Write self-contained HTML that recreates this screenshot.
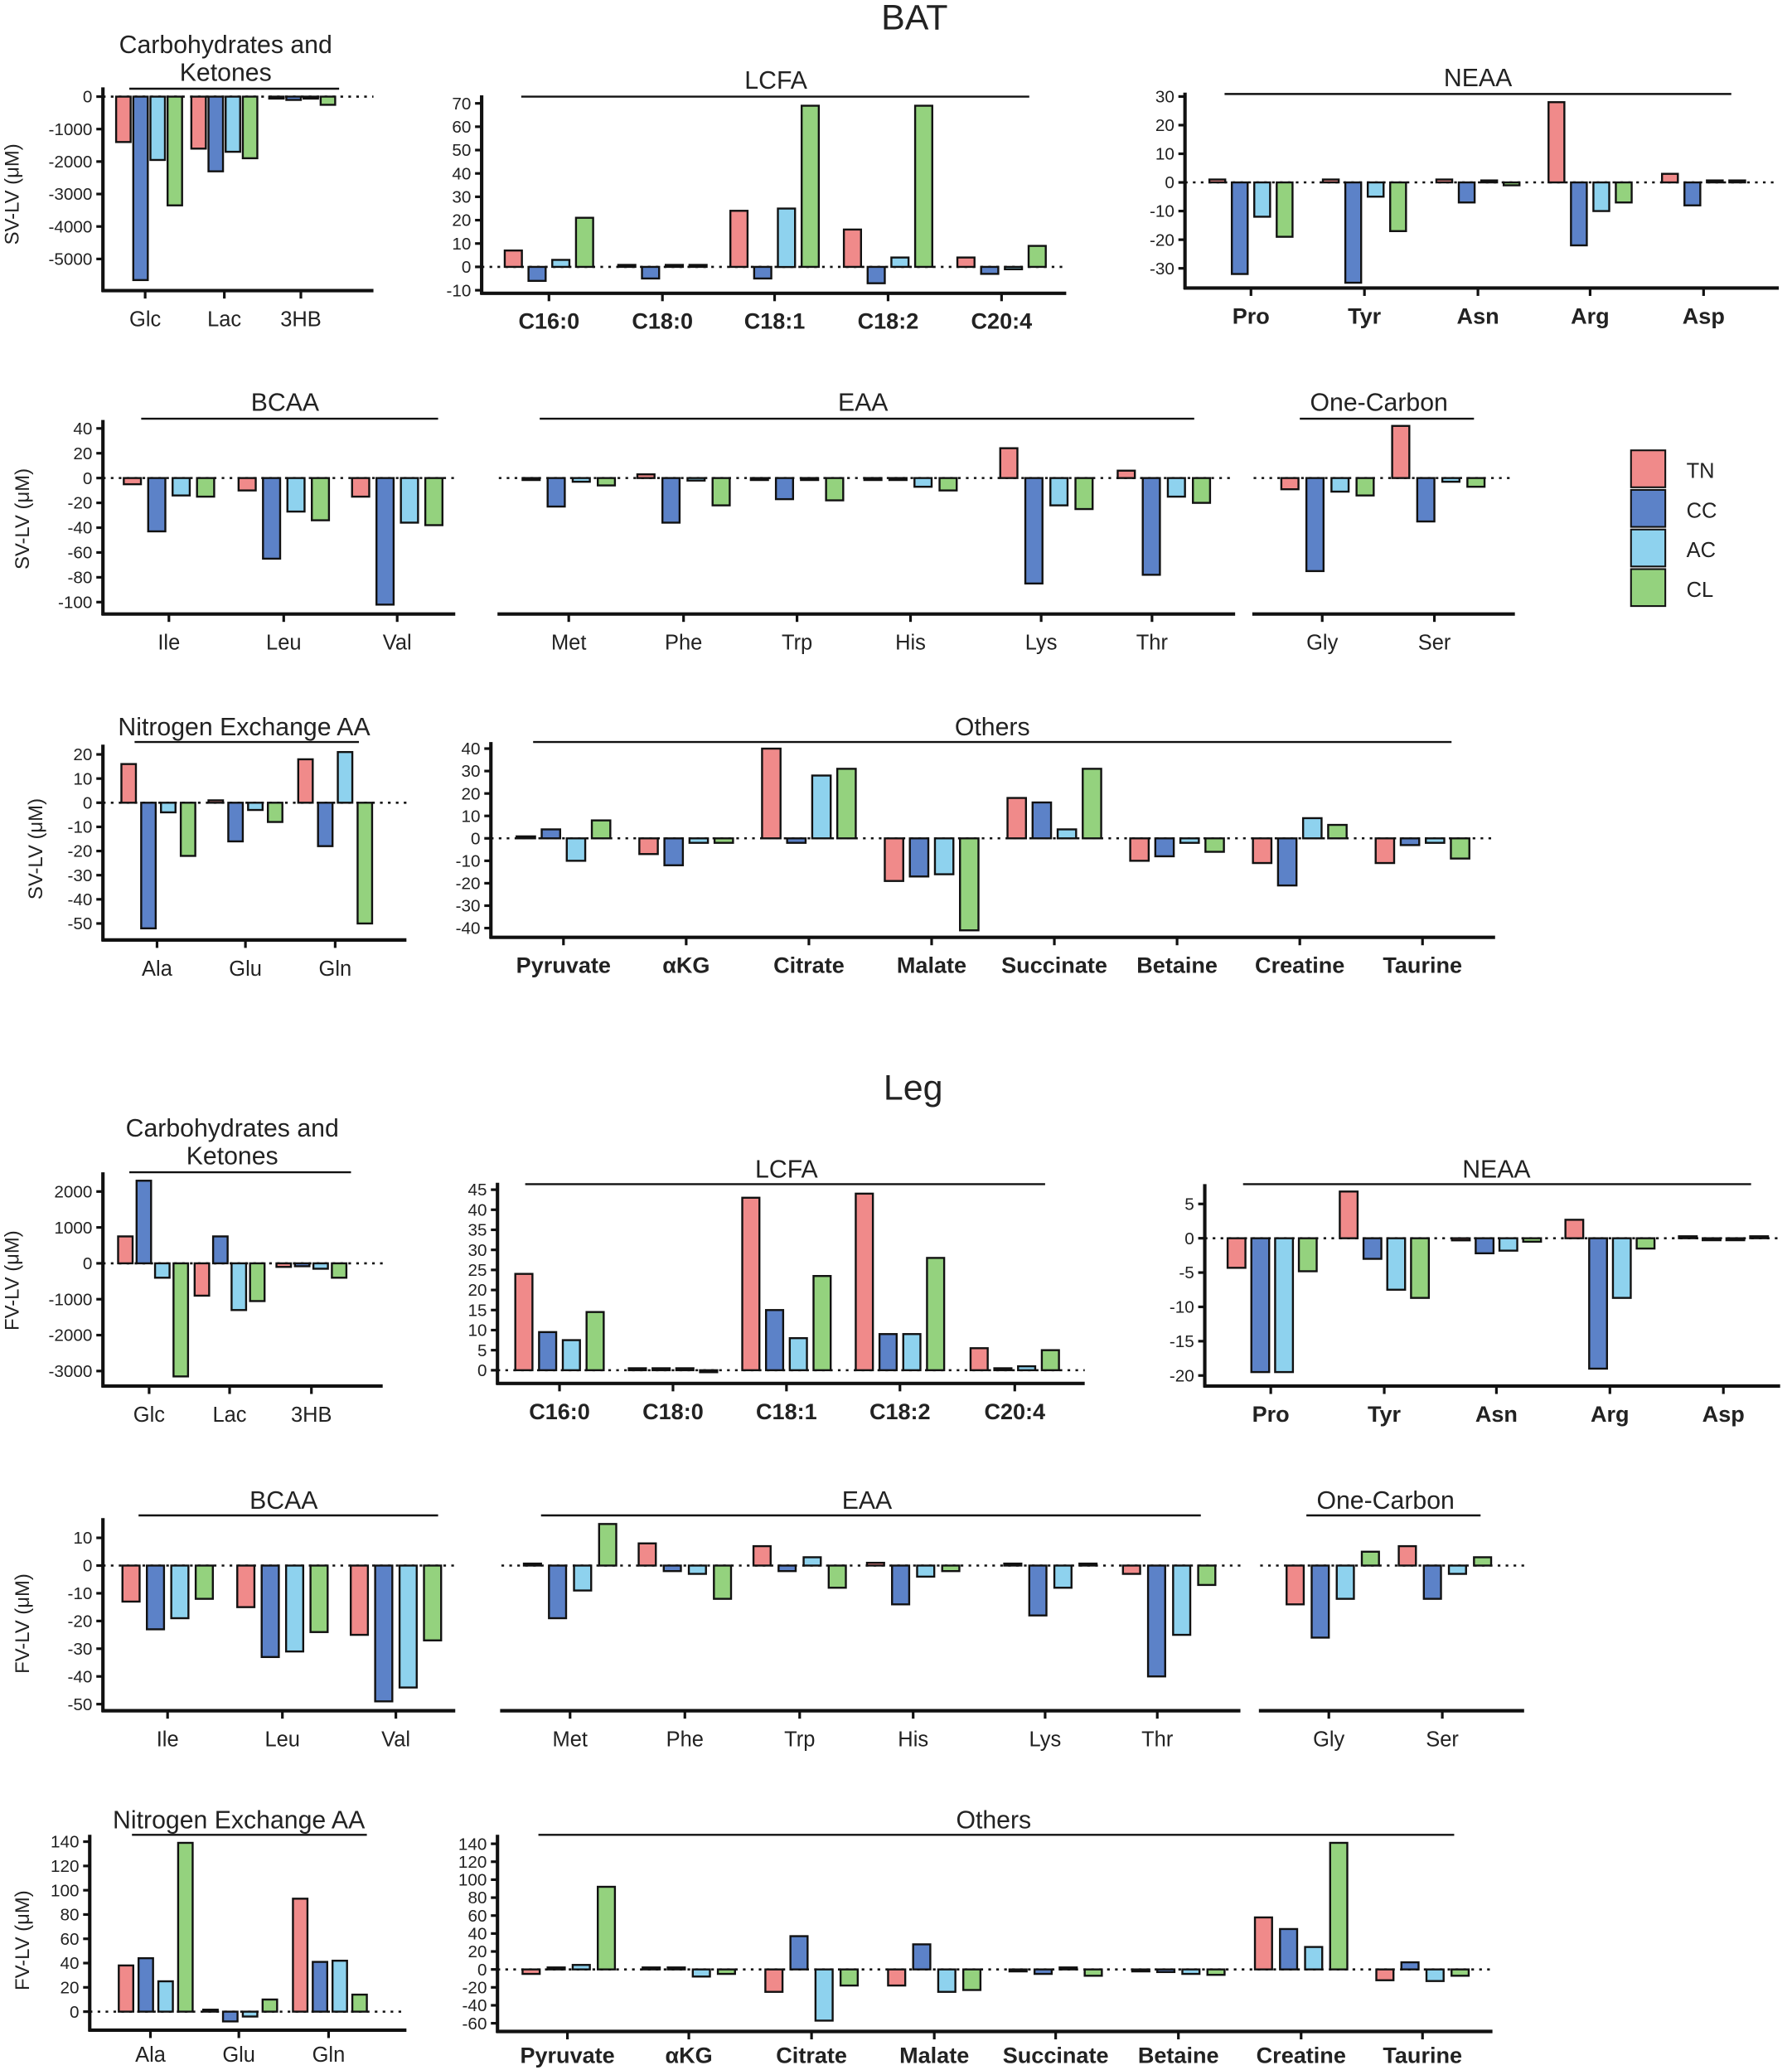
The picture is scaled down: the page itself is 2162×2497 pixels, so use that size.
<!DOCTYPE html>
<html><head><meta charset="utf-8"><style>
html,body{margin:0;padding:0;background:#fff;}
svg{display:block;}
text{font-family:"Liberation Sans",sans-serif;fill:#222;}
</style></head><body>
<svg id="s" width="2162" height="2497" viewBox="0 0 1358 1568" xmlns="http://www.w3.org/2000/svg">
<text x="693" y="22" font-size="27" text-anchor="middle">BAT</text>
<text x="692" y="833" font-size="27" text-anchor="middle">Leg</text>
<g font-size="16">
<rect x="1236" y="341" width="26" height="28" fill="#F08A8A" stroke="#111" stroke-width="1.3"/>
<rect x="1236" y="371" width="26" height="28" fill="#5C82C8" stroke="#111" stroke-width="1.3"/>
<rect x="1236" y="401" width="26" height="28" fill="#8ED2EE" stroke="#111" stroke-width="1.3"/>
<rect x="1236" y="431" width="26" height="28" fill="#94D27E" stroke="#111" stroke-width="1.3"/>
<text x="1278" y="362">TN</text><text x="1278" y="392">CC</text><text x="1278" y="422">AC</text><text x="1278" y="452">CL</text>
</g>
</svg>
<script>
var C=["#F08A8A","#5C82C8","#8ED2EE","#94D27E"];
var P=[
{ya:1,x0:78,x1:283,yb:220,y0:73,ppu:0.0246,ticks:[0,-1000,-2000,-3000,-4000,-5000],ytop:66,w:11,s:13,
 cats:[["Glc",110,113,[-1400,-5650,-1950,-3350]],["Lac",170,170,[-1600,-2300,-1700,-1900]],["3HB",228,229,[-30,-100,-50,-250]]],
 title:["Carbohydrates and","Ketones"],tx:171,ty:40,l:[98,257,67],yl:"SV-LV (μM)",ylx:14,yly:147},
{ya:1,x0:365,x1:808,yb:222,y0:202,ppu:1.77,ticks:[70,60,50,40,30,20,10,0,-10],ytop:72,w:13,s:18,bold:1,
 cats:[["C16:0",416,416,[7,-6,3,21]],["C18:0",502,502,[0.5,-5,0,0]],["C18:1",587,587,[24,-5,25,69]],["C18:2",673,673,[16,-7,4,69]],["C20:4",759,759,[4,-3,-1,9]]],
 title:["LCFA"],tx:588,ty:67,l:[395,780,73]},
{ya:1,x0:898,x1:1348,yb:218,y0:138,ppu:2.17,ticks:[30,20,10,0,-10,-20,-30],ytop:70,w:12,s:17,bold:1,
 cats:[["Pro",948,948,[1,-32,-12,-19]],["Tyr",1034,1034,[1,-35,-5,-17]],["Asn",1120,1120,[1,-7,0.5,-1]],["Arg",1205,1205,[28,-22,-10,-7]],["Asp",1291,1291,[3,-8,0,0]]],
 title:["NEAA"],tx:1120,ty:65,l:[928,1312,71]},
{ya:1,x0:78,x1:345,yb:465,y0:362,ppu:0.94,ticks:[40,20,0,-20,-40,-60,-80,-100],ytop:318,w:13,s:18.5,
 cats:[["Ile",128,128,[-5,-43,-14,-15]],["Leu",215,215,[-10,-65,-27,-34]],["Val",301,301,[-15,-102,-36,-38]]],
 title:["BCAA"],tx:216,ty:311,l:[107,332,317],yl:"SV-LV (μM)",ylx:22,yly:393},
{ya:0,x0:378,x1:936,yb:465,y0:362,ppu:0.94,w:13,s:19,
 cats:[["Met",431,431,[-1,-23,-3,-6]],["Phe",518,518,[3,-36,-2,-22]],["Trp",604,604,[-1,-17,-1,-18]],["His",690,690,[-1,-1,-7,-10]],["Lys",789,793,[24,-85,-22,-25]],["Thr",873,882,[6,-78,-15,-20]]],
 title:["EAA"],tx:654,ty:311,l:[409,905,317]},
{ya:0,x0:950,x1:1148,yb:465,y0:362,ppu:0.94,w:13,s:19,
 cats:[["Gly",1002,1006,[-9,-75,-11,-14]],["Ser",1087,1090,[42,-35,-3,-7]]],
 title:["One-Carbon"],tx:1045,ty:311,l:[985,1117,317]},
{ya:1,x0:78,x1:308,yb:712,y0:608,ppu:1.83,ticks:[20,10,0,-10,-20,-30,-40,-50],ytop:564,w:11,s:15,
 cats:[["Ala",119,120,[16,-52,-4,-22]],["Glu",186,186,[1,-16,-3,-8]],["Gln",254,254,[18,-18,21,-50]]],
 title:["Nitrogen Exchange AA"],tx:185,ty:557,l:[102,272,562],yl:"SV-LV (μM)",ylx:32,yly:643},
{ya:1,x0:372,x1:1133,yb:710,y0:635,ppu:1.7,ticks:[40,30,20,10,0,-10,-20,-30,-40],ytop:562,w:14,s:19,bold:1,
 cats:[["Pyruvate",427,427,[0.5,4,-10,8]],["αKG",520,520,[-7,-12,-2,-2]],["Citrate",613,613,[40,-2,28,31]],["Malate",706,706,[-19,-17,-16,-41]],["Succinate",799,799,[18,16,4,31]],["Betaine",892,892,[-10,-8,-2,-6]],["Creatine",985,985,[-11,-21,9,6]],["Taurine",1078,1078,[-11,-3,-2,-9]]],
 title:["Others"],tx:752,ty:557,l:[404,1100,562]},
{ya:1,x0:78,x1:290,yb:1050,y0:957,ppu:0.0272,ticks:[2000,1000,0,-1000,-2000,-3000],ytop:888,w:11,s:14,
 cats:[["Glc",113,116,[750,2300,-400,-3150]],["Lac",174,174,[-900,750,-1300,-1050]],["3HB",236,236,[-100,-80,-150,-400]]],
 title:["Carbohydrates and","Ketones"],tx:176,ty:861,l:[98,266,888],yl:"FV-LV (μM)",ylx:14,yly:970},
{ya:1,x0:377,x1:822,yb:1048,y0:1038,ppu:3.04,ticks:[45,40,35,30,25,20,15,10,5,0],ytop:896,w:13,s:18,bold:1,
 cats:[["C16:0",424,424,[24,9.5,7.5,14.5]],["C18:0",510,510,[0.3,0.3,0.3,-0.3]],["C18:1",596,596,[43,15,8,23.5]],["C18:2",682,682,[44,9,9,28]],["C20:4",769,769,[5.5,0,1,5]]],
 title:["LCFA"],tx:596,ty:892,l:[398,792,897]},
{ya:1,x0:913,x1:1349,yb:1050,y0:938,ppu:5.2,ticks:[5,0,-5,-10,-15,-20],ytop:897,w:13.5,s:18,bold:1,
 cats:[["Pro",963,964,[-4.3,-19.5,-19.5,-4.8]],["Tyr",1049,1049,[6.8,-3,-7.5,-8.7]],["Asn",1134,1134,[-0.3,-2.2,-1.8,-0.5]],["Arg",1220,1220,[2.7,-19,-8.7,-1.5]],["Asp",1306,1306,[0.1,-0.1,-0.1,0.2]]],
 title:["NEAA"],tx:1134,ty:892,l:[942,1327,897]},
{ya:1,x0:78,x1:345,yb:1296,y0:1186,ppu:2.1,ticks:[10,0,-10,-20,-30,-40,-50],ytop:1150,w:13,s:18.5,
 cats:[["Ile",127,127,[-13,-23,-19,-12]],["Leu",214,214,[-15,-33,-31,-24]],["Val",300,300,[-25,-49,-44,-27]]],
 title:["BCAA"],tx:215,ty:1143,l:[105,332,1148],yl:"FV-LV (μM)",ylx:22,yly:1230},
{ya:0,x0:380,x1:940,yb:1296,y0:1186,ppu:2.1,w:13,s:19,
 cats:[["Met",432,432,[0.3,-19,-9,15]],["Phe",519,519,[8,-2,-3,-12]],["Trp",606,606,[7,-2,3,-8]],["His",692,692,[1,-14,-4,-2]],["Lys",792,796,[0.2,-18,-8,0.5]],["Thr",877,886,[-3,-40,-25,-7]]],
 title:["EAA"],tx:657,ty:1143,l:[410,910,1148]},
{ya:0,x0:955,x1:1155,yb:1296,y0:1186,ppu:2.1,w:13,s:19,
 cats:[["Gly",1007,1010,[-14,-26,-12,5]],["Ser",1093,1095,[7,-12,-3,3]]],
 title:["One-Carbon"],tx:1050,ty:1143,l:[990,1122,1148]},
{ya:1,x0:68,x1:308,yb:1538,y0:1524,ppu:0.92,ticks:[140,120,100,80,60,40,20,0],ytop:1390,w:11,s:15,lo:24,
 cats:[["Ala",114,118,[38,44,25,139]],["Glu",181,182,[0.5,-8,-4,10]],["Gln",249,250,[93,41,42,14]]],
 title:["Nitrogen Exchange AA"],tx:181,ty:1385,l:[100,278,1390],yl:"FV-LV (μM)",ylx:22,yly:1470},
{ya:1,x0:377,x1:1131,yb:1539,y0:1492,ppu:0.68,ticks:[140,120,100,80,60,40,20,0,-20,-40,-60],ytop:1390,w:13,s:19,bold:1,lo:24,
 cats:[["Pyruvate",430,431,[-5,2,5,92]],["αKG",522,522,[1,1,-8,-5]],["Citrate",615,615,[-25,37,-57,-18]],["Malate",708,708,[-18,28,-25,-23]],["Succinate",800,800,[-1,-5,2,-7]],["Betaine",893,893,[-1,-3,-5,-6]],["Creatine",986,986,[58,45,25,141]],["Taurine",1078,1078,[-12,8,-13,-7]]],
 title:["Others"],tx:753,ty:1385,l:[408,1102,1390]}
];
var h="";
P.forEach(function(p){
 var lo=p.lo||27;
 h+='<line x1="'+p.x0+'" x2="'+p.x1+'" y1="'+p.y0+'" y2="'+p.y0+'" stroke="#111" stroke-width="1.6" stroke-dasharray="2,4"/>';
 p.cats.forEach(function(c){
  var start=c[2]-1.5*p.s-p.w/2;
  c[3].forEach(function(v,i){
   var x=start+i*p.s, hgt=Math.max(Math.abs(v*p.ppu),1.5), y=v>=0?p.y0-hgt:p.y0;
   h+='<rect x="'+x.toFixed(1)+'" y="'+y.toFixed(1)+'" width="'+p.w+'" height="'+hgt.toFixed(1)+'" fill="'+C[i]+'" stroke="#111" stroke-width="1.5"/>';
  });
  h+='<line x1="'+c[1]+'" x2="'+c[1]+'" y1="'+p.yb+'" y2="'+(p.yb+6)+'" stroke="#111" stroke-width="2"/>';
  h+='<text x="'+c[1]+'" y="'+(p.yb+lo)+'" font-size="'+(p.bold?17:16)+'" text-anchor="middle"'+(p.bold?' font-weight="bold" fill="#333"':' fill="#444"')+'>'+c[0]+'</text>';
 });
 h+='<line x1="'+(p.x0-1)+'" x2="'+p.x1+'" y1="'+p.yb+'" y2="'+p.yb+'" stroke="#111" stroke-width="2.6"/>';
 if(p.ya){
  h+='<line x1="'+p.x0+'" x2="'+p.x0+'" y1="'+p.ytop+'" y2="'+(p.yb+1)+'" stroke="#111" stroke-width="2.6"/>';
  p.ticks.forEach(function(t){var y=p.y0-t*p.ppu;
   h+='<line x1="'+(p.x0-5)+'" x2="'+p.x0+'" y1="'+y.toFixed(1)+'" y2="'+y.toFixed(1)+'" stroke="#111" stroke-width="2"/>';
   h+='<text x="'+(p.x0-8)+'" y="'+(y+4.5).toFixed(1)+'" font-size="13" text-anchor="end" fill="#444">'+t+'</text>';});
 }
 if(p.yl) h+='<text transform="translate('+p.ylx+','+p.yly+') rotate(-90)" font-size="15" text-anchor="middle" fill="#222">'+p.yl+'</text>';
 p.title.forEach(function(t,i){h+='<text x="'+p.tx+'" y="'+(p.ty+i*21)+'" font-size="19" text-anchor="middle" fill="#111">'+t+'</text>';});
 h+='<line x1="'+p.l[0]+'" x2="'+p.l[1]+'" y1="'+p.l[2]+'" y2="'+p.l[2]+'" stroke="#111" stroke-width="1.5"/>';
});
document.getElementById("s").insertAdjacentHTML("beforeend",h);
</script>
</body></html>
